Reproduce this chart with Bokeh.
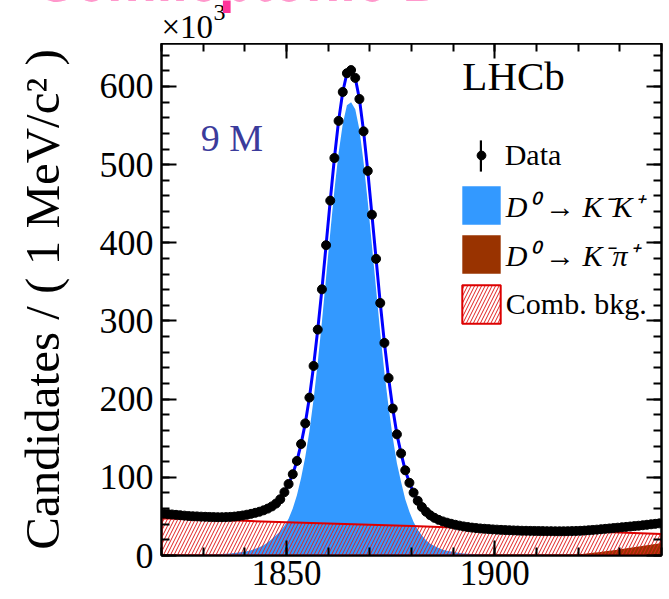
import numpy as np
from bokeh.plotting import figure
from bokeh.layouts import column
from bokeh.models import (Range1d, LinearAxis, SingleIntervalTicker, Label, Legend,
                          LegendItem, CustomJSTickFormatter)
from bokeh.embed import file_html
from bokeh.resources import INLINE

# ---------------- data (thousands of candidates per 1 MeV/c^2 bin) ----------------
mass = list(np.arange(1820.5, 1940.0, 1.0))  # bin centres

data = [
    53.5, 53.0, 52.5, 52.0, 51.5, 51.0, 50.5, 50.2, 50.0, 49.7,
    49.5, 49.3, 49.1, 49.0, 49.0, 49.1, 49.4, 49.8, 50.4, 51.2,
    52.2, 53.3, 54.6, 56.0, 57.8, 60.0, 62.8, 66.5, 72.0, 81.0,
    91.5, 104.0, 121.0, 142.6, 169.0, 202.0, 242.5, 289.0, 340.5, 397.0,
    454.0, 508.5, 556.0, 593.0, 617.0, 621.0, 611.0, 584.0, 542.6, 492.0,
    436.0, 379.5, 323.0, 272.0, 227.0, 188.0, 155.0, 130.6, 109.0, 93.0,
    80.4, 70.0, 62.0, 56.0, 51.5, 48.2, 45.6, 43.6, 42.0, 40.6,
    39.3, 38.2, 37.2, 36.4, 35.7, 35.1, 34.6, 34.2, 33.8, 33.4,
    33.1, 32.8, 32.5, 32.3, 32.1, 31.9, 31.7, 31.6, 31.5, 31.4,
    31.3, 31.2, 31.1, 31.1, 31.0, 31.0, 31.0, 31.1, 31.2, 31.4,
    31.6, 31.9, 32.3, 32.7, 33.1, 33.6, 34.1, 34.6, 35.1, 35.6,
    36.1, 36.6, 37.1, 37.6, 38.1, 38.7, 39.3, 39.9, 40.5, 41.1,
]
# statistical uncertainty of each bin, in thousands
data_err = [0.23, 0.23, 0.23, 0.23, 0.23, 0.23, 0.22, 0.22, 0.22, 0.22,
            0.22, 0.22, 0.22, 0.22, 0.22, 0.22, 0.22, 0.22, 0.22, 0.23,
            0.23, 0.23, 0.23, 0.24, 0.24, 0.24, 0.25, 0.26, 0.27, 0.28,
            0.30, 0.32, 0.35, 0.38, 0.41, 0.45, 0.49, 0.54, 0.58, 0.63,
            0.67, 0.71, 0.75, 0.77, 0.79, 0.79, 0.78, 0.76, 0.74, 0.70,
            0.66, 0.62, 0.57, 0.52, 0.48, 0.43, 0.39, 0.36, 0.33, 0.30,
            0.28, 0.26, 0.25, 0.24, 0.23, 0.22, 0.21, 0.21, 0.20, 0.20,
            0.20, 0.20, 0.19, 0.19, 0.19, 0.19, 0.19, 0.18, 0.18, 0.18,
            0.18, 0.18, 0.18, 0.18, 0.18, 0.18, 0.18, 0.18, 0.18, 0.18,
            0.18, 0.18, 0.18, 0.18, 0.18, 0.18, 0.18, 0.18, 0.18, 0.18,
            0.18, 0.18, 0.18, 0.18, 0.18, 0.18, 0.18, 0.19, 0.19, 0.19,
            0.19, 0.19, 0.19, 0.19, 0.20, 0.20, 0.20, 0.20, 0.20, 0.20]

signal_kk = [
    0.3, 0.3, 0.4, 0.4, 0.5, 0.5, 0.6, 0.7, 0.8, 0.9,
    1.0, 1.2, 1.4, 1.6, 1.9, 2.2, 2.6, 3.1, 3.7, 4.5,
    5.5, 6.8, 8.5, 10.5, 13.0, 16.5, 21.0, 26.0, 31.0, 38.0,
    47.0, 60.0, 77.0, 99.0, 126.0, 159.0, 200.0, 247.0, 299.0, 356.0,
    413.0, 468.0, 515.0, 552.0, 576.0, 580.0, 571.0, 545.0, 503.0, 453.0,
    397.0, 341.0, 285.0, 234.0, 190.0, 151.0, 118.0, 94.0, 72.0, 56.0,
    43.0, 33.0, 25.5, 19.5, 15.0, 12.0, 9.5, 7.5, 6.0, 5.0,
    4.0, 3.3, 2.7, 2.3, 1.9, 1.6, 1.4, 1.2, 1.0, 0.9,
    0.8, 0.7, 0.65, 0.6, 0.55, 0.5, 0.45, 0.4, 0.38, 0.35,
    0.33, 0.3, 0.28, 0.26, 0.24, 0.22, 0.2, 0.19, 0.18, 0.17,
    0.16, 0.15, 0.14, 0.13, 0.12, 0.11, 0.1, 0.1, 0.09, 0.09,
    0.08, 0.08, 0.07, 0.07, 0.06, 0.06, 0.05, 0.05, 0.05, 0.04,
]

comb_mass = [1820, 1830, 1840, 1850, 1860, 1870, 1880, 1890, 1900, 1910, 1920, 1930, 1940]
comb_bkg = [47.6, 45.9, 44.3, 42.6, 40.9, 39.3, 37.6, 35.9, 34.3, 32.6, 30.9, 29.3, 27.6]

kpi_mass = [1914, 1915, 1916, 1917, 1918, 1919, 1920, 1921, 1922, 1923, 1924, 1925, 1926,
            1927, 1928, 1929, 1930, 1931, 1932, 1933, 1934, 1935, 1936, 1937, 1938, 1939, 1940]
kpi_bkg = [0.0, 0.1, 0.3, 0.5, 0.8, 1.1, 1.5, 2.0, 2.5, 3.1, 3.7, 4.3, 5.0,
           5.7, 6.4, 7.1, 7.9, 8.7, 9.5, 10.3, 11.1, 11.9, 12.7, 13.5, 14.3, 15.1, 15.9]

FONT = "Liberation Serif"

# ---------------- header strip (text above the frame) ----------------
head = figure(width=669, height=43, output_backend="svg", toolbar_location=None,
              x_range=Range1d(0, 669), y_range=Range1d(0, 43), min_border=0,
              x_axis_location=None, y_axis_location=None,
              background_fill_color="white", border_fill_color="white")
head.outline_line_color = None
head.grid.visible = False
head.add_layout(Label(x=161, y=16.9, text="×10", text_font=FONT, text_font_size="33px",
                      text_color="black", text_baseline="alphabetic"))
head.add_layout(Label(x=213, y=30.9, text="3", text_font=FONT, text_font_size="24px",
                      text_color="black", text_baseline="alphabetic"))
head.add_layout(Label(x=38, y=62.4, text="Semileptonic D", text_font="Liberation Sans",
                      text_font_style="bold", text_font_size="56px", text_color="#ff3399",
                      text_baseline="alphabetic"))

# ---------------- main plot ----------------
p = figure(width=669, height=556, output_backend="svg", toolbar_location=None,
           x_range=Range1d(1820, 1940), y_range=Range1d(0, 655),
           min_border_left=161, min_border_right=8, min_border_top=0, min_border_bottom=44,
           background_fill_color="white", border_fill_color="white")
p.grid.visible = False
p.outline_line_color = "black"
p.outline_line_width = 2

# keep each plot's frame where it is (no frame alignment inside the column)
try:
    head.frame_align = False
    p.frame_align = False
except AttributeError:
    pass


def style_axis(ax, ticker, labels=True, size="35px", standoff=5):
    ax.ticker = ticker
    ax.major_tick_in = 15
    ax.major_tick_out = 0
    ax.minor_tick_in = 8
    ax.minor_tick_out = 0
    ax.major_tick_line_width = 2
    ax.minor_tick_line_width = 2
    ax.axis_line_width = 2
    ax.major_tick_line_color = "black"
    ax.minor_tick_line_color = "black"
    ax.axis_line_color = "black"
    if labels:
        ax.major_label_text_font = FONT
        ax.major_label_text_font_size = size
        ax.major_label_text_color = "black"
        ax.major_label_standoff = standoff
    else:
        ax.formatter = CustomJSTickFormatter(code="return ''")
        ax.major_label_text_font_size = "0px"
        ax.major_label_standoff = 0


style_axis(p.xaxis[0], SingleIntervalTicker(interval=50, num_minor_ticks=5), size="35px", standoff=5)
style_axis(p.yaxis[0], SingleIntervalTicker(interval=100, num_minor_ticks=5), size="36px", standoff=8)
p.yaxis[0].axis_label = "Candidates / ( 1 MeV/c² )"
p.yaxis[0].axis_label_text_font = FONT
p.yaxis[0].axis_label_text_font_size = "49px"
p.yaxis[0].axis_label_text_font_style = "normal"
p.yaxis[0].axis_label_text_color = "black"
p.yaxis[0].axis_label_standoff = 27

top_ax = LinearAxis()
style_axis(top_ax, SingleIntervalTicker(interval=50, num_minor_ticks=5), labels=False)
p.add_layout(top_ax, "above")
right_ax = LinearAxis()
style_axis(right_ax, SingleIntervalTicker(interval=100, num_minor_ticks=5), labels=False)
p.add_layout(right_ax, "right")

# ---------------- components ----------------
sig_r = p.varea(x=mass, y1=0, y2=signal_kk, fill_color="#3399ff")
kpi_r = p.varea(x=kpi_mass, y1=0, y2=kpi_bkg, fill_color="#993300")
comb_r = p.patch(x=comb_mass + comb_mass[::-1], y=comb_bkg + [0] * len(comb_bkg),
                 fill_alpha=0, hatch_pattern="/", hatch_color="#e02020", hatch_scale=7,
                 hatch_weight=1, line_color="#dd0000", line_width=2)
fit_r = p.line(mass, data, line_color="#0000ff", line_width=3)
err_r = p.vbar(x=mass, width=0.12,
               bottom=[v - e for v, e in zip(data, data_err)],
               top=[v + e for v, e in zip(data, data_err)],
               fill_color="black", line_color=None)
dot_r = p.scatter(mass, data, size=9, fill_color="black", line_color="black")

# ---------------- texts ----------------
p.add_layout(Label(x=1892.2, y=613.7, text="LHCb", text_font=FONT, text_font_size="41px",
                   text_color="black", text_baseline="alphabetic"))
p.add_layout(Label(x=1829.4, y=533.7, text="9 M", text_font=FONT, text_font_size="38px",
                   text_color="#3b3b9b", text_baseline="alphabetic"))

# ---------------- legends ----------------
def make_legend(items, gw, gh, loc, style="normal", standoff=1, spacing=1):
    leg = Legend(items=items, location=loc, glyph_width=gw, glyph_height=gh,
                 padding=0, margin=0, spacing=spacing, label_standoff=standoff,
                 background_fill_alpha=0, border_line_alpha=0, inactive_fill_alpha=0,
                 label_text_font=FONT, label_text_font_size="30px",
                 label_text_font_style=style, label_text_color="black")
    p.add_layout(leg, "center")
    return leg


make_legend([LegendItem(label=" ", renderers=[err_r])], 3, 39, (318.2, 380.5))
make_legend([LegendItem(label="Data", renderers=[dot_r])], 22, 34, (308.7, 383), standoff=13)
make_legend([LegendItem(label="D⁰ → K⁻K⁺", renderers=[sig_r]),
             LegendItem(label="D⁰ → K⁻π⁺", renderers=[kpi_r])], 48, 48, (295.85, 277),
            style="italic")
make_legend([LegendItem(label="Comb. bkg.", renderers=[comb_r])], 48, 48, (295.85, 227))

layout = column(head, p, spacing=0)
open("out.html", "w").write(file_html(layout, INLINE))
